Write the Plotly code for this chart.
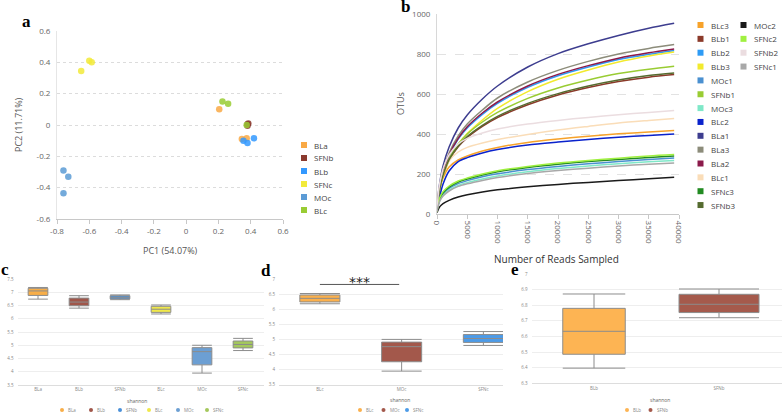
import plotly.graph_objects as go

W, H = 784, 414
def px(x): return x / W
def py(y): return 1 - y / H

FONT = "Open Sans"

# ---------------- Panel a: PCA ----------------
pca_groups = ["BLa", "SFNb", "BLb", "SFNc", "MOc", "BLc"]
pca_colors = ["#F9A945", "#8B3A2F", "#3399FF", "#F2EA3A", "#5B9BD5", "#99CC33"]
pca_x = {
    "BLa": [0.205, 0.345, 0.375],
    "SFNb": [0.38, 0.385, 0.38],
    "BLb": [0.355, 0.38, 0.42],
    "SFNc": [-0.60, -0.585, -0.65],
    "MOc": [-0.76, -0.73, -0.76],
    "BLc": [0.225, 0.26, 0.375],
}
pca_y = {
    "BLa": [0.10, -0.09, -0.085],
    "SFNb": [0.005, 0.01, -0.005],
    "BLb": [-0.10, -0.115, -0.085],
    "SFNc": [0.41, 0.40, 0.345],
    "MOc": [-0.29, -0.33, -0.435],
    "BLc": [0.15, 0.135, 0.0],
}
pca_ticks_x = [-0.8, -0.6, -0.4, -0.2, 0, 0.2, 0.4, 0.6]
pca_ticktext_x = ["-0.8", "-0.6", "-0.4", "-0.2", "0", "0.2", "0.4", "0.6"]
pca_ticks_y = [-0.6, -0.4, -0.2, 0, 0.2, 0.4, 0.6]
pca_ticktext_y = ["-0.6", "-0.4", "-0.2", "0", "0.2", "0.4", "0.6"]

# ---------------- Panel b: rarefaction ----------------
reads = [10, 250, 500, 1000, 2000, 3500, 5000, 7500, 10000, 15000, 20000, 25000, 30000, 35000, 39200]
rare_names = ["BLc3", "BLb1", "BLb2", "BLb3", "MOc1", "SFNb1", "MOc3", "BLc2", "BLa1",
              "BLa3", "BLa2", "BLc1", "SFNc3", "SFNb3", "MOc2", "SFNc2", "SFNb2", "SFNc1"]
rare_colors = ["#F7A22A", "#8B3A2A", "#2E9BF5", "#F2EA2E", "#4A90D0", "#99CC33", "#7FE8C8", "#0A22CC",
               "#3D3D8F", "#8C8C7A", "#8B1A4A", "#FADDB8", "#228B22", "#556B2F", "#1A1A1A",
               "#A0F040", "#EBDDE0", "#A8A8A8"]
rare_vals = {
    "BLc3":  [15, 90, 135, 180, 235, 270, 290, 315, 333, 358, 375, 389, 401, 410, 417],
    "BLb1":  [15, 86, 133, 192, 268, 336, 382, 438, 482, 546, 595, 632, 662, 684, 697],
    "BLb2":  [15, 95, 145, 210, 292, 374, 430, 498, 553, 633, 691, 735, 772, 799, 818],
    "BLb3":  [15, 85, 130, 190, 268, 346, 402, 470, 528, 612, 674, 720, 760, 790, 810],
    "MOc1":  [12, 52, 76, 100, 128, 152, 167, 186, 201, 222, 238, 251, 262, 272, 280],
    "SFNb1": [15, 90, 138, 200, 278, 350, 400, 460, 508, 578, 630, 670, 702, 724, 739],
    "MOc3":  [12, 48, 70, 94, 120, 143, 157, 175, 190, 211, 227, 240, 251, 261, 268],
    "BLc2":  [15, 60, 95, 150, 215, 262, 282, 305, 322, 345, 360, 373, 384, 393, 400],
    "BLa1":  [15, 110, 165, 240, 335, 430, 495, 575, 640, 735, 802, 851, 893, 929, 954],
    "BLa3":  [15, 100, 150, 220, 305, 390, 450, 520, 580, 660, 718, 763, 800, 828, 847],
    "BLa2":  [15, 95, 145, 212, 295, 378, 436, 505, 560, 640, 698, 742, 779, 806, 825],
    "BLc1":  [15, 100, 145, 200, 265, 310, 333, 355, 372, 398, 420, 438, 455, 468, 478],
    "SFNc3": [12, 55, 80, 106, 134, 160, 175, 195, 211, 233, 249, 262, 273, 283, 290],
    "SFNb3": [15, 88, 135, 195, 272, 340, 387, 443, 488, 553, 602, 640, 670, 692, 705],
    "MOc2":  [8, 25, 38, 52, 68, 85, 96, 110, 121, 136, 148, 158, 167, 176, 184],
    "SFNc2": [12, 60, 85, 112, 140, 165, 180, 200, 216, 238, 255, 268, 279, 290, 297],
    "SFNb2": [15, 110, 160, 225, 295, 350, 378, 405, 425, 450, 468, 483, 496, 508, 518],
    "SFNc1": [12, 46, 67, 90, 115, 138, 151, 168, 182, 202, 217, 229, 240, 249, 255],
}

# ---------------- Panels c, d, e: shannon boxplots ----------------
c_cats = ["BLa", "BLb", "SFNb", "BLc", "MOc", "SFNc"]
c_colors = ["#F8AE48", "#A0564A", "#4A90D9", "#F0E84A", "#6C9FD3", "#A4C85C"]
c_min = [6.74, 6.40, 6.72, 6.18, 3.95, 4.80]
c_q1 = [6.88, 6.49, 6.75, 6.24, 4.26, 4.90]
c_med = [7.05, 6.63, 6.81, 6.36, 4.76, 5.03]
c_q3 = [7.15, 6.78, 6.87, 6.47, 4.91, 5.16]
c_max = [7.18, 6.87, 6.90, 6.52, 5.00, 5.26]

d_cats = ["BLc", "MOc", "SFNc"]
d_colors = ["#FBB04C", "#A3584B", "#4C9BE8"]
d_min = [6.18, 3.95, 4.80]
d_q1 = [6.24, 4.26, 4.90]
d_med = [6.36, 4.76, 5.03]
d_q3 = [6.47, 4.91, 5.16]
d_max = [6.52, 5.00, 5.26]

e_cats = ["BLb", "SFNb"]
e_colors = ["#FDB453", "#A55A4C"]
e_min = [6.397, 6.72]
e_q1 = [6.486, 6.753]
e_med = [6.633, 6.806]
e_q3 = [6.78, 6.87]
e_max = [6.872, 6.904]
e_width = [0.5, 0.64]

fig = go.Figure()

# Panel a traces
for g, col in zip(pca_groups, pca_colors):
    fig.add_trace(go.Scatter(x=pca_x[g], y=pca_y[g], mode="markers", name=g,
                             marker=dict(color=col, size=6.5, opacity=0.85),
                             xaxis="x", yaxis="y", showlegend=False, hoverinfo="skip"))

# Panel b traces
for n, col in zip(rare_names, rare_colors):
    fig.add_trace(go.Scatter(x=reads, y=rare_vals[n], mode="lines", name=n,
                             line=dict(color=col, width=1.5, shape="spline", smoothing=0.8),
                             xaxis="x2", yaxis="y2", showlegend=False, hoverinfo="skip"))

BOXLINE = "#8c8c8c"
def add_boxes(cats, colors, mn, q1, med, q3, mx, xa, ya, widths):
    for i, c in enumerate(cats):
        fig.add_trace(go.Box(x=[c], q1=[q1[i]], median=[med[i]], q3=[q3[i]],
                             lowerfence=[mn[i]], upperfence=[mx[i]], orientation="v",
                             fillcolor=colors[i], line=dict(color=BOXLINE, width=1),
                             whiskerwidth=1, width=widths[i], boxpoints=False,
                             xaxis=xa, yaxis=ya, showlegend=False, hoverinfo="skip"))

add_boxes(c_cats, c_colors, c_min, c_q1, c_med, c_q3, c_max, "x3", "y3", [0.48] * 6)
add_boxes(d_cats, d_colors, d_min, d_q1, d_med, d_q3, d_max, "x4", "y4", [0.49] * 3)
add_boxes(e_cats, e_colors, e_min, e_q1, e_med, e_q3, e_max, "x5", "y5", e_width)

tickfont_big = dict(family=FONT, size=8, color="#666")
tickfont_small = dict(family=FONT, size=4.5, color="#888")

layout = dict(
    width=W, height=H, autosize=False,
    margin=dict(l=0, r=0, t=0, b=0, pad=0),
    paper_bgcolor="white", plot_bgcolor="white",
    showlegend=False, boxmode="overlay",
    font=dict(family=FONT),
    # a
    xaxis=dict(domain=[px(57), px(283)], anchor="y", range=[-0.8, 0.6],
               tickvals=pca_ticks_x, ticktext=pca_ticktext_x, showgrid=False, zeroline=False,
               showline=True, linecolor="#c8c8c8", ticks="outside", ticklen=4, tickcolor="#c8c8c8",
               tickfont=tickfont_big),
    yaxis=dict(domain=[py(219), py(31)], anchor="x", range=[-0.6, 0.6],
               tickvals=pca_ticks_y, ticktext=pca_ticktext_y, showgrid=True, gridcolor="#dcdcdc",
               griddash="dot", zeroline=False, showline=True, linecolor="#e6e6e6",
               tickfont=tickfont_big, ticklabelstandoff=4),
    # b
    xaxis2=dict(domain=[px(437), px(679)], anchor="y2", range=[0, 40000], dtick=5000,
                tickformat="d", tickangle=90, showgrid=False, zeroline=False,
                showline=True, linecolor="#c8c8c8", ticks="outside", ticklen=4, tickcolor="#c8c8c8",
                tickfont=tickfont_big),
    yaxis2=dict(domain=[py(214), py(14)], anchor="x2", range=[0, 1000], dtick=200,
                showgrid=True, gridcolor="#e2e2e2", griddash="dash", zeroline=False,
                showline=True, linecolor="#d8d8d8", tickfont=tickfont_big, ticklabelstandoff=4),
    # c
    xaxis3=dict(domain=[px(17.5), px(263.5)], anchor="y3", type="category",
                categoryorder="array", categoryarray=c_cats, range=[-0.5, 5.5],
                showgrid=False, zeroline=False, showline=True, linecolor="#dddddd",
                tickfont=tickfont_small),
    yaxis3=dict(domain=[py(385), py(279)], anchor="x3", range=[3.5, 7.5], dtick=0.5,
                showgrid=True, gridcolor="#eeeeee", zeroline=False, tickfont=tickfont_small,
                ticklabelstandoff=3),
    # d
    xaxis4=dict(domain=[px(279), px(503)], anchor="y4", type="category",
                categoryorder="array", categoryarray=d_cats, range=[-0.5, 2.24],
                showgrid=False, zeroline=False, showline=True, linecolor="#dddddd",
                tickfont=tickfont_small),
    yaxis4=dict(domain=[py(384.7), py(279)], anchor="x4", range=[3.5, 7], dtick=0.5,
                showgrid=True, gridcolor="#eeeeee", zeroline=False, tickfont=tickfont_small,
                ticklabelstandoff=3),
    # e
    xaxis5=dict(domain=[px(531.5), px(781.5)], anchor="y5", type="category",
                categoryorder="array", categoryarray=e_cats, range=[-0.5, 1.5],
                showgrid=False, zeroline=False, showline=True, linecolor="#dddddd",
                tickfont=tickfont_small),
    yaxis5=dict(domain=[py(383.3), py(274)], anchor="x5", range=[6.3, 7.0], dtick=0.1,
                showgrid=True, gridcolor="#eeeeee", zeroline=False, tickfont=tickfont_small,
                ticklabelstandoff=3),
)
for k in list(layout.keys()):
    if k.startswith("xaxis") or k.startswith("yaxis"):
        layout[k]["automargin"] = False
fig.update_layout(**layout)

def text(x, y, t, size, color="#444", family=FONT, angle=0, xanchor="center", bold=False):
    if bold:
        t = "<b>" + t + "</b>"
    fig.add_annotation(x=px(x), y=py(y), xref="paper", yref="paper", text=t, showarrow=False,
                       xanchor=xanchor, yanchor="middle", textangle=angle,
                       font=dict(size=size, color=color, family=family))

# panel labels
SERIF = "Liberation Serif"
text(27, 21, "a", 17, "#000", SERIF, bold=True)
text(405, 7, "b", 17, "#000", SERIF, bold=True)
text(5, 269, "c", 17, "#000", SERIF, bold=True)
text(266, 270, "d", 17, "#000", SERIF, bold=True)
text(515, 269, "e", 17, "#000", SERIF, bold=True)

# axis titles
text(18, 125, "PC2 (11.71%)", 9, "#555", angle=-90)
text(170, 250, "PC1 (54.07%)", 9, "#555")
text(400, 104, "OTUs", 9, "#555", angle=-90)
text(556, 259, "Number of Reads Sampled", 10, "#333")
text(137, 401, "shannon", 5, "#666")
text(400, 400, "shannon", 5, "#666")
text(660, 400, "shannon", 5, "#666")

# manual legends (square swatches)
def sq_legend(x, y, color, name, size=6, fs=8):
    fig.add_shape(type="rect", xref="paper", yref="paper",
                  x0=px(x), x1=px(x + size), y0=py(y + size / 2), y1=py(y - size / 2),
                  fillcolor=color, line=dict(width=0))
    text(x + size + 5, y, name, fs, "#444", xanchor="left")

for i, (g, col) in enumerate(zip(pca_groups, pca_colors)):
    sq_legend(301, 145 + 13 * i, col, g)

for i, (n, col) in enumerate(zip(rare_names, rare_colors)):
    if i < 14:
        sq_legend(697.5, 25 + 13.85 * i, col, n)
    else:
        sq_legend(740.5, 25 + 13.85 * (i - 14), col, n)

# small bottom legends for boxplots
def dot_legend(x0, step, y, names, colors):
    for i, (n, col) in enumerate(zip(names, colors)):
        x = x0 + step * i
        fig.add_shape(type="circle", xref="paper", yref="paper",
                      x0=px(x - 2), x1=px(x + 2), y0=py(y + 2), y1=py(y - 2),
                      fillcolor=col, line=dict(width=0))
        text(x + 4, y, n, 4.5, "#888", xanchor="left")

dot_legend(62, 29, 410, c_cats, c_colors)
dot_legend(360, 23.5, 410, d_cats, d_colors)
dot_legend(627, 23.5, 410, e_cats, e_colors)

# significance bar in panel d
fig.add_shape(type="line", xref="x4", yref="y4", x0=0, x1=0.97, y0=6.82, y1=6.82,
              line=dict(color="#555", width=1))
fig.add_annotation(x=0.49, y=6.82, xref="x4", yref="y4", text="***", showarrow=False,
                   yanchor="middle", yshift=2, font=dict(size=14, color="#222", family="DejaVu Sans"))

fig.write_html("out.html", config={"displayModeBar": False},
               post_script="document.body.style.margin='0';document.body.style.overflow='hidden';")
